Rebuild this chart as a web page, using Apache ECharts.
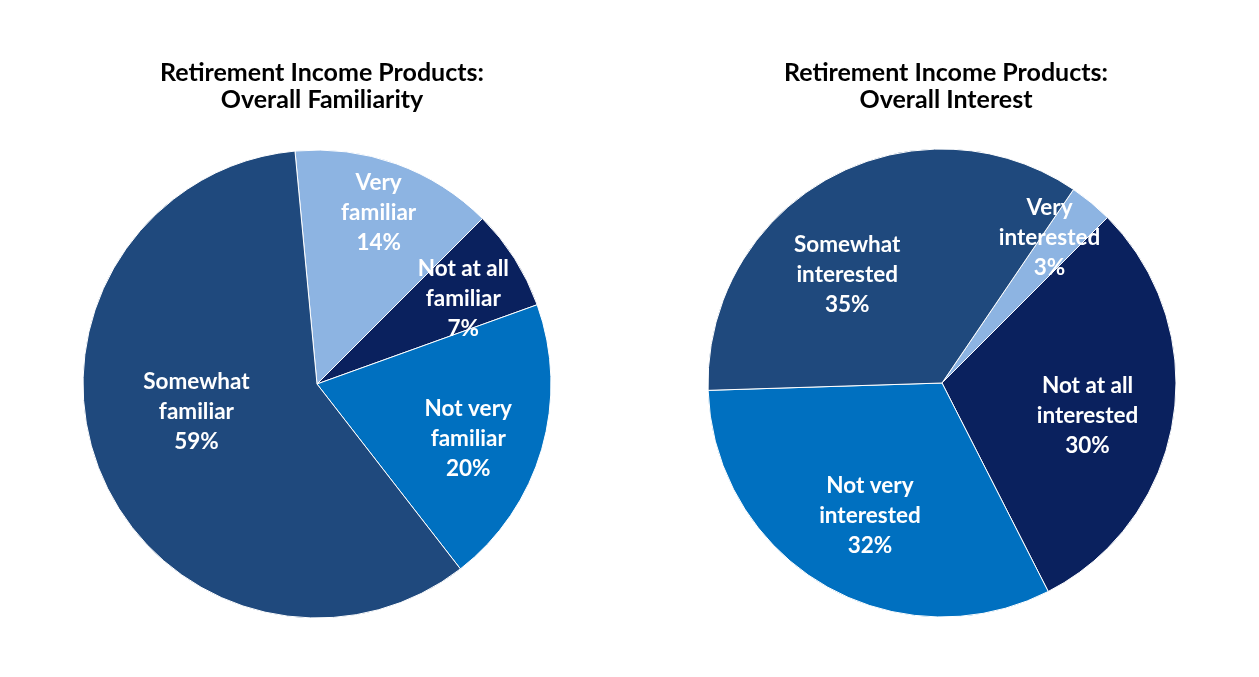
<!DOCTYPE html>
<html>
<head>
<meta charset="utf-8">
<script src="https://cdn.jsdelivr.net/npm/echarts@6/dist/echarts.min.js"></script>
<style>
  html, body { margin: 0; padding: 0; background: #fff; }
  #chart { width: 1259px; height: 677px; }
</style>
</head>
<body>
<div id="chart"></div>
<script>
// data
var familiarCats = ['Very\nfamiliar', 'Not at all\nfamiliar', 'Not very\nfamiliar', 'Somewhat\nfamiliar'];
var familiarVals = [14, 7, 20, 59];
var interestCats = ['Very\ninterested', 'Not at all\ninterested', 'Not very\ninterested', 'Somewhat\ninterested'];
var interestVals = [3, 30, 32, 35];

// slice colours, same order as the categories
var colors = ['#8db4e2', '#0a215e', '#0070c0', '#1f497d'];

// nudges from the default inside spot so labels sit where the original has them
var famNudge = [[21, -58], [45, -21], [36, 21], [-9, -16]];
var intNudge = [[31, -53], [27, 14], [-11, 29], [-37, -3]];

function toData(cats, vals) {
  return cats.map(function (c, i) {
    return { name: c, value: vals[i], itemStyle: { color: colors[i] } };
  });
}

var labelStyle = {
  show: true,
  position: 'inside',
  formatter: '{b}\n{c}%',
  color: '#fff',
  fontFamily: 'Lato',
  fontWeight: 'bold',
  fontSize: 22.5,
  lineHeight: 30
};

var titleStyle = {
  color: '#000',
  fontFamily: 'Lato',
  fontWeight: 'bold',
  fontSize: 25,
  lineHeight: 27
};

var myChart = echarts.init(document.getElementById('chart'));
var option = {
  animation: false,
  title: [
    { text: 'Retirement Income Products:\nOverall Familiarity', left: 317, top: 54, textAlign: 'center', textStyle: titleStyle },
    { text: 'Retirement Income Products:\nOverall Interest', left: 941, top: 54, textAlign: 'center', textStyle: titleStyle }
  ],
  series: [
    {
      type: 'pie',
      center: [317, 384],
      radius: 234,
      startAngle: 95.4,
      clockwise: true,
      data: toData(familiarCats, familiarVals),
      itemStyle: { borderColor: '#fff', borderWidth: 1 },
      label: labelStyle,
      labelLine: { show: false },
      labelLayout: function (p) {
        var n = famNudge[p.dataIndex];
        return { dx: n[0], dy: n[1] };
      }
    },
    {
      type: 'pie',
      center: [942, 383],
      radius: 234,
      startAngle: 55.8,
      clockwise: true,
      data: toData(interestCats, interestVals),
      itemStyle: { borderColor: '#fff', borderWidth: 1 },
      label: labelStyle,
      labelLine: { show: false },
      labelLayout: function (p) {
        var n = intNudge[p.dataIndex];
        return { dx: n[0], dy: n[1] };
      }
    }
  ]
};
myChart.setOption(option);
</script>
</body>
</html>
